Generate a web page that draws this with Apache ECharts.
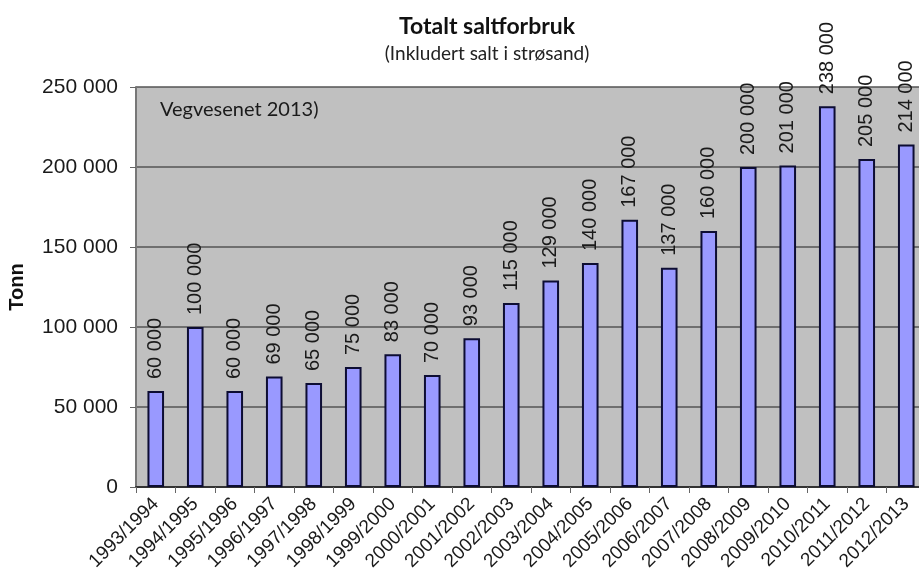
<!DOCTYPE html>
<html>
<head>
<meta charset="utf-8">
<script src="https://cdn.jsdelivr.net/npm/echarts@6/dist/echarts.min.js"></script>
<style>
  html, body { margin: 0; padding: 0; background: #fff; overflow: hidden; }
  #chart { width: 919px; height: 583px; }
</style>
</head>
<body>
<div id="chart"></div>
<script>
// Winter seasons and total salt use (tonnes)
const seasons = [
  '1993/1994', '1994/1995', '1995/1996', '1996/1997', '1997/1998',
  '1998/1999', '1999/2000', '2000/2001', '2001/2002', '2002/2003',
  '2003/2004', '2004/2005', '2005/2006', '2006/2007', '2007/2008',
  '2008/2009', '2009/2010', '2010/2011', '2011/2012', '2012/2013'
];
const saltTonnes = [
  60000, 100000, 60000, 69000, 65000, 75000, 83000, 70000, 93000, 115000,
  129000, 140000, 167000, 137000, 160000, 200000, 201000, 238000, 205000, 214000
];
const yTicks = { min: 0, max: 250000, step: 50000 };

// "250 000" style thousands grouping
const fmt = v => String(v).replace(/\B(?=(\d{3})+(?!\d))/g, ' ');

const chart = echarts.init(document.getElementById('chart'), null, { renderer: 'canvas' });
chart.setOption({
  animation: false,
  backgroundColor: '#ffffff',
  title: [
    {
      text: 'Totalt saltforbruk',
      left: 482, top: 10, textAlign: 'center',
      textStyle: { fontFamily: 'Lato, sans-serif', fontWeight: 'bold', fontSize: 23, color: '#111' }
    },
    {
      text: '(Inkludert salt i strøsand)',
      left: 482, top: 39, textAlign: 'center',
      textStyle: { fontFamily: 'Lato, sans-serif', fontWeight: 'normal', fontSize: 19, color: '#222' }
    }
  ],
  graphic: [
    {
      type: 'text', left: 160, top: 100, z: 10,
      style: { text: 'Vegvesenet 2013)', font: '20px Lato, sans-serif', fill: '#1a1a1a' }
    }
  ],
  // the plot runs a little past the right edge of the canvas
  grid: {
    left: 136, top: 87, width: 790, height: 400,
    outerBoundsMode: 'none', containLabel: false,
    show: true, backgroundColor: '#c0c0c0', borderWidth: 0
  },
  xAxis: {
    type: 'category',
    data: seasons,
    axisLine: { show: true, lineStyle: { color: '#333', width: 2 } },
    axisTick: { show: true, length: 6, lineStyle: { color: '#666' } },
    axisLabel: {
      interval: 0, rotate: 45, margin: 14,
      fontFamily: 'Arial, Liberation Sans, sans-serif', fontSize: 19, color: '#1a1a1a'
    }
  },
  yAxis: {
    type: 'value',
    min: yTicks.min, max: yTicks.max, interval: yTicks.step,
    name: 'Tonn', nameLocation: 'middle', nameGap: 109, nameRotate: 90,
    nameTextStyle: { fontFamily: 'Arial, Liberation Sans, sans-serif', fontWeight: 'bold', fontSize: 20, color: '#111' },
    axisLine: { show: true, lineStyle: { color: '#777', width: 2 } },
    axisTick: { show: true, length: 6, lineStyle: { color: '#666' } },
    splitLine: { show: true, lineStyle: { color: '#555', width: 1.5 } },
    axisLabel: {
      formatter: fmt, margin: 18,
      fontFamily: 'Arial, Liberation Sans, sans-serif', fontSize: 21, color: '#1a1a1a'
    }
  },
  series: [
    {
      type: 'bar',
      data: saltTonnes,
      barWidth: '42%',
      itemStyle: { color: '#9999ff', borderColor: '#0d0d33', borderWidth: 2 },
      label: {
        show: true, position: 'top', rotate: 90, align: 'left', verticalAlign: 'middle',
        distance: 12, formatter: p => fmt(p.value),
        fontFamily: 'Arial, Liberation Sans, sans-serif', fontSize: 20, color: '#1a1a1a'
      }
    }
  ]
});
</script>
</body>
</html>
